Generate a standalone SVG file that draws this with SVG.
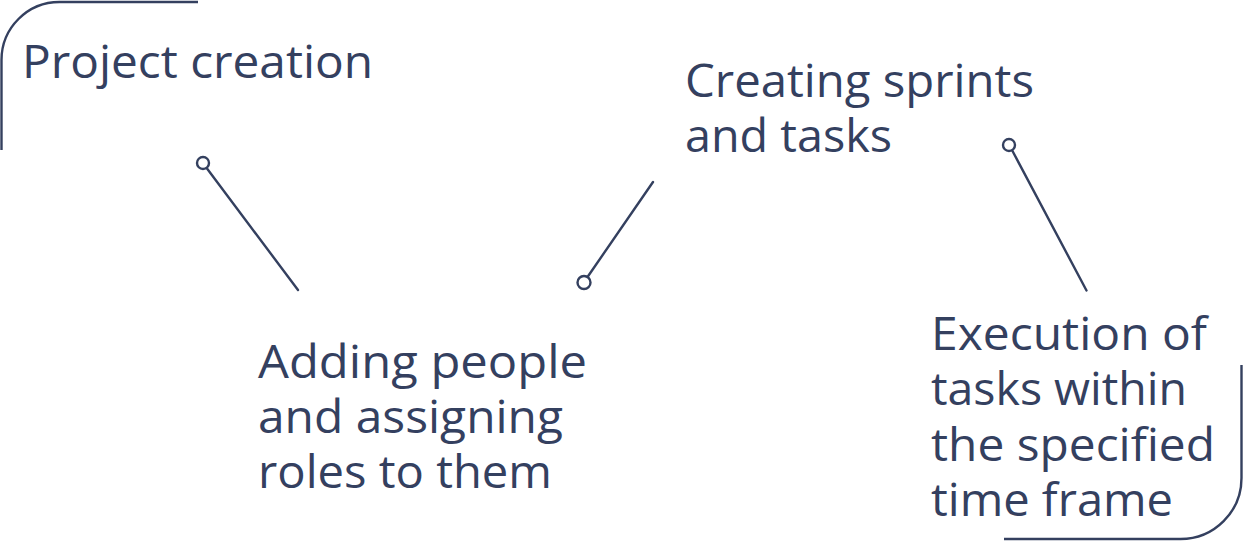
<svg xmlns="http://www.w3.org/2000/svg" width="1244" height="542" viewBox="0 0 1244 542">
<style>
.t{font-family:"Open Sans","Liberation Sans",sans-serif;font-size:45px;fill:#34405F;}
.ln{fill:none;stroke:#34405F;stroke-width:2.4;stroke-linecap:round;}
.dot{fill:#fff;stroke:#34405F;stroke-width:2.4;}
</style>
<rect width="1244" height="542" fill="#fff"/>
<g id="frames">
<path class="ln" d="M1.5,150 V60 A58,58 0 0 1 59.5,2 H198" style="stroke-linecap:butt"/>
<path class="ln" d="M1241.5,365 V478 A61,61 0 0 1 1180.5,539 H1004" style="stroke-linecap:butt"/>
</g>
<g id="connectors">
<line class="ln" x1="207" y1="168.5" x2="298" y2="290"/>
<circle class="dot" cx="203" cy="163" r="6"/>
<line class="ln" x1="587.5" y1="277" x2="653" y2="182"/>
<circle class="dot" cx="584" cy="282.5" r="6.5"/>
<line class="ln" x1="1012.5" y1="151" x2="1086.5" y2="290.5"/>
<circle class="dot" cx="1009" cy="145" r="6"/>
</g>
<g id="node-project">
<text class="t" x="22" y="78" textLength="351" lengthAdjust="spacingAndGlyphs">Project creation</text>
</g>
<g id="node-people">
<text class="t" x="258" y="378" textLength="329" lengthAdjust="spacingAndGlyphs">Adding people</text>
<text class="t" x="258" y="433" textLength="305" lengthAdjust="spacingAndGlyphs">and assigning</text>
<text class="t" x="258" y="488" textLength="294" lengthAdjust="spacingAndGlyphs">roles to them</text>
</g>
<g id="node-sprints">
<text class="t" x="685" y="97" textLength="349" lengthAdjust="spacingAndGlyphs">Creating sprints</text>
<text class="t" x="685" y="152" textLength="207" lengthAdjust="spacingAndGlyphs">and tasks</text>
</g>
<g id="node-execution">
<text class="t" x="931" y="349.5" textLength="276" lengthAdjust="spacingAndGlyphs">Execution of</text>
<text class="t" x="931" y="405" textLength="256" lengthAdjust="spacingAndGlyphs">tasks within</text>
<text class="t" x="931" y="460.5" textLength="284" lengthAdjust="spacingAndGlyphs">the specified</text>
<text class="t" x="931" y="516" textLength="242" lengthAdjust="spacingAndGlyphs">time frame</text>
</g>
</svg>
